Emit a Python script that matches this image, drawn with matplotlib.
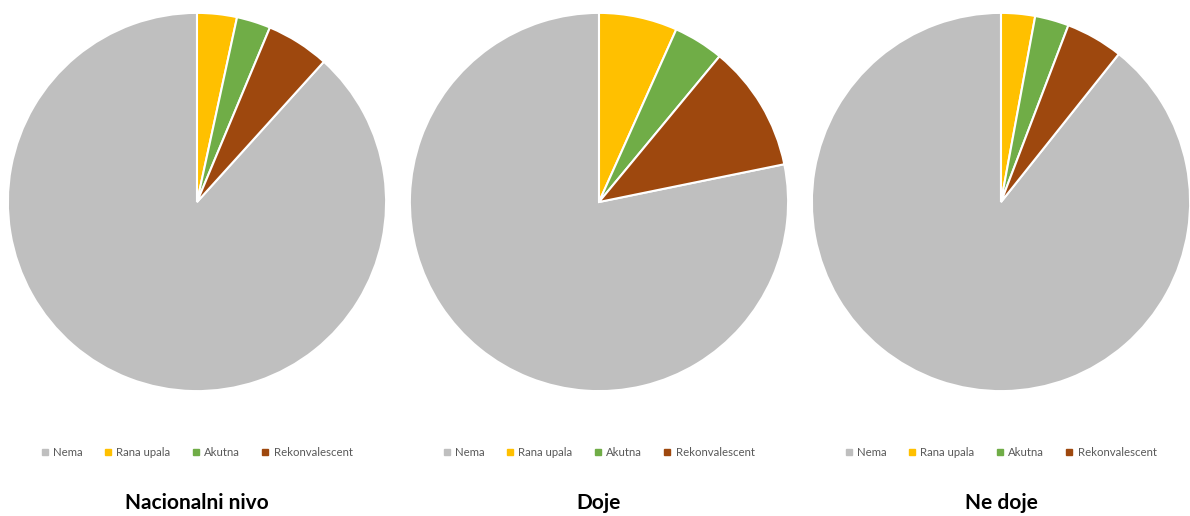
import matplotlib
matplotlib.use("Agg")
import matplotlib.pyplot as plt
from matplotlib.lines import Line2D

plt.rcParams['font.family'] = ['Lato', 'DejaVu Sans']

labels = ["Nema", "Rana upala", "Akutna", "Rekonvalescent"]
colors = ["#BFBFBF", "#FFC000", "#70AD47", "#9E480E"]
titles = ["Nacionalni nivo", "Doje", "Ne doje"]

# shares in percent, same order as labels
nacionalni = [88.3, 3.4, 2.9, 5.4]
doje = [78.2, 6.7, 4.3, 10.8]
ne_doje = [89.3, 2.9, 2.9, 4.9]
groups = [nacionalni, doje, ne_doje]

W, H = 1190, 516
fig = plt.figure(figsize=(W / 100, H / 100), dpi=100)

centers = [197, 599, 1001]
cy = 202
r = 191  # axes half-size; pie drawn at ~189 px

for cx, vals, title in zip(centers, groups, titles):
    ax = fig.add_axes([(cx - r) / W, (H - cy - r) / H, 2 * r / W, 2 * r / H])
    nema_deg = vals[0] / sum(vals) * 360
    ax.pie(vals, colors=colors, startangle=90 + nema_deg, counterclock=False,
           radius=1, wedgeprops=dict(edgecolor="white", linewidth=1.5))
    ax.set_xlim(-1.01, 1.01)
    ax.set_ylim(-1.01, 1.01)
    ax.set_aspect("equal")
    ax.axis("off")

    handles = [Line2D([], [], marker="s", linestyle="none", markersize=4.5,
                      markerfacecolor=c, markeredgecolor=c) for c in colors]
    fig.legend(handles, labels, loc="center", bbox_to_anchor=(cx / W, 1 - 452 / H),
               ncol=4, frameon=False, fontsize=8.2, labelcolor="#595959",
               handletextpad=0.45, columnspacing=1.9, handlelength=0.6)
    fig.text(cx / W, 1 - 503 / H, title, ha="center", va="center",
             fontsize=15, fontweight="bold", color="black")

fig.savefig("out.png", dpi=100)
